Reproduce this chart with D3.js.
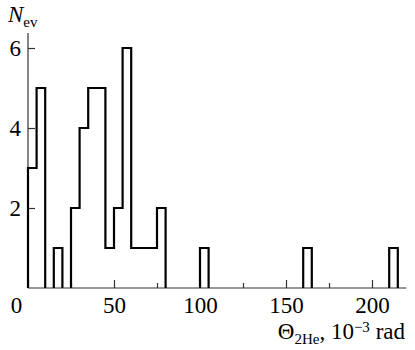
<!DOCTYPE html>
<html>
<head>
<meta charset="utf-8">
<script src="https://cdn.jsdelivr.net/npm/d3@7"></script>
<style>
  html, body { margin: 0; padding: 0; background: #fff; }
  svg { display: block; }
</style>
</head>
<body>
<svg id="chart" width="415" height="350"></svg>
<script>
// ---- data ----
const binWidth = 5;
const binStarts = [0, 5, 15, 25, 30, 35, 40, 45, 50, 55, 60, 65, 70, 75, 100, 160, 210];
const counts    = [3, 5, 1, 2, 4, 5, 5, 1, 2, 6, 1, 1, 1, 2, 1, 1, 1];
const xMajorTicks = [0, 50, 100, 150, 200];
const xMinorTicks = [25, 75, 125, 175];
const yTicks = [2, 4, 6];

// ---- layout ----
const SERIF = "'Liberation Serif', 'Times New Roman', 'DejaVu Serif', serif";
const svg = d3.select("#chart");
const x = d3.scaleLinear().domain([0, 220]).range([28, 406.4]);
const y = d3.scaleLinear().domain([0, 6.375]).range([288, 33]);

const axisColor = "#333";
svg.append("line").attr("x1", x(0)).attr("x2", x(220)).attr("y1", y(0)).attr("y2", y(0))
  .attr("stroke", axisColor).attr("stroke-width", 1.2);
svg.append("line").attr("x1", x(0)).attr("x2", x(0)).attr("y1", y(0)).attr("y2", y(6.375))
  .attr("stroke", axisColor).attr("stroke-width", 1.2);

// x axis major
const gx = svg.append("g").attr("transform", `translate(0,${y(0)})`)
  .call(d3.axisBottom(x).tickValues(xMajorTicks).tickSizeInner(-8).tickSizeOuter(0).tickPadding(9)
    .tickFormat(d3.format("d")));
gx.select(".domain").remove();
gx.selectAll(".tick line").attr("stroke", axisColor).attr("stroke-width", 1.2);
gx.selectAll(".tick text").style("font-family", SERIF).style("font-size", "23px").style("fill", "#000")
  .attr("dx", d => d === 0 ? -12 : 0);

// x axis minor
const gxm = svg.append("g").attr("transform", `translate(0,${y(0)})`)
  .call(d3.axisBottom(x).tickValues(xMinorTicks).tickSizeInner(-5).tickSizeOuter(0).tickFormat(""));
gxm.select(".domain").remove();
gxm.selectAll(".tick line").attr("stroke", axisColor).attr("stroke-width", 1.2);

// y axis
const gy = svg.append("g").attr("transform", `translate(${x(0)},0)`)
  .call(d3.axisLeft(y).tickValues(yTicks).tickSizeInner(-7).tickSizeOuter(0).tickPadding(7)
    .tickFormat(d3.format("d")));
gy.select(".domain").remove();
gy.selectAll(".tick line").attr("stroke", axisColor).attr("stroke-width", 1.2);
gy.selectAll(".tick text").style("font-family", SERIF).style("font-size", "23px").style("fill", "#000");

// histogram outline: contiguous runs of non-empty bins
const runs = [];
binStarts.forEach((s, i) => {
  const last = runs[runs.length - 1];
  if (last && last[last.length - 1].s + binWidth === s) last.push({s, c: counts[i]});
  else runs.push([{s, c: counts[i]}]);
});
const p = d3.path();
runs.forEach(run => {
  p.moveTo(x(run[0].s), y(0));
  run.forEach(b => {
    p.lineTo(x(b.s), y(b.c));
    p.lineTo(x(b.s + binWidth), y(b.c));
  });
  p.lineTo(x(run[run.length - 1].s + binWidth), y(0));
});
svg.append("path").attr("d", p.toString()).attr("fill", "none")
  .attr("stroke", "#000").attr("stroke-width", 2.2).attr("stroke-linejoin", "miter");

// y title
const yt = svg.append("text").attr("x", 8).attr("y", 22)
  .style("font-family", SERIF).style("font-size", "23px");
yt.append("tspan").style("font-style", "italic").text("N");
yt.append("tspan").style("font-size", "15px").attr("dy", 5).text("ev");

// x title
const xt = svg.append("text").attr("x", 405).attr("y", 339).attr("text-anchor", "end")
  .style("font-family", SERIF).style("font-size", "23px");
xt.append("tspan").text("Θ");
xt.append("tspan").style("font-size", "15px").attr("dy", 5).text("2He");
xt.append("tspan").attr("dy", -5).text(", 10");
xt.append("tspan").style("font-size", "15px").attr("dy", -7).text("−3");
xt.append("tspan").attr("dy", 7).text(" rad");
</script>
</body>
</html>
